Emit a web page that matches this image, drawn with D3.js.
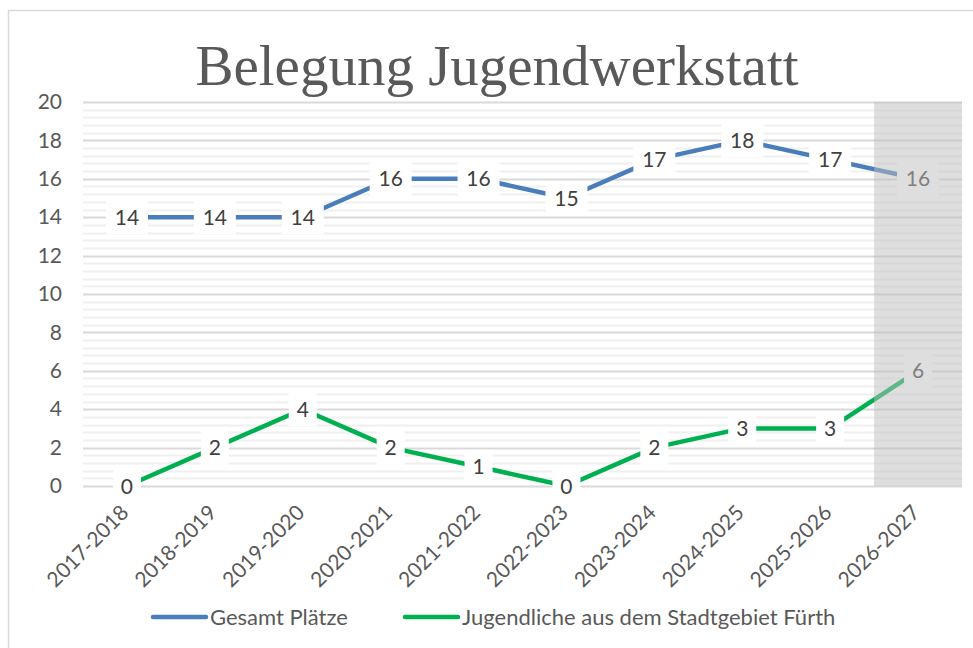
<!DOCTYPE html>
<html><head><meta charset="utf-8">
<script src="https://cdn.jsdelivr.net/npm/d3@7"></script>
<style>body{margin:0;background:#fff}svg{display:block}</style>
</head><body>
<svg id="c" width="973" height="648"></svg>
<script>
const categories = ["2017-2018","2018-2019","2019-2020","2020-2021","2021-2022","2022-2023","2023-2024","2024-2025","2025-2026","2026-2027"];
const gesamt = [14,14,14,16,16,15,17,18,17,16];
const fuerth = [0,2,4,2,1,0,2,3,3,6];
const yTicks = [0,2,4,6,8,10,12,14,16,18,20];
const seriesNames = ["Gesamt Plätze","Jugendliche aus dem Stadtgebiet Fürth"];
const seriesColors = ["#4a7ebb","#00b050"];
const title = "Belegung Jugendwerkstatt";
const shadedCategory = "2026-2027";

const svg = d3.select("#c");
const W = 973, H = 648;
const m = {l:83, r:11, t:102, b:162};
svg.append("rect").attr("x",8.5).attr("y",10.5).attr("width",W+10).attr("height",H+10).attr("fill","#fff").attr("stroke","#d9d9d9").attr("stroke-width",1.5);

const x = d3.scaleBand().domain(categories).range([m.l, W-m.r]).padding(0);
const y = d3.scaleLinear().domain([0,20]).range([H-m.b, m.t]);
const font = "Lato, 'Open Sans', sans-serif";

svg.append("text").attr("x",497).attr("y",85).attr("text-anchor","middle")
  .attr("font-family","'Liberation Serif', 'DejaVu Serif', serif").attr("font-size",57).attr("fill","#595959").text(title);

// minor gridlines
const minor = d3.range(0,20.001,0.4).filter(v => Math.abs(v/2-Math.round(v/2))>1e-6);
svg.append("g").selectAll("line").data(minor).join("line")
  .attr("x1",m.l).attr("x2",W-m.r).attr("y1",d=>Math.round(y(d))+0.5).attr("y2",d=>Math.round(y(d))+0.5)
  .attr("stroke","#f0f0f0").attr("stroke-width",2);
svg.append("g").selectAll("line").data(yTicks).join("line")
  .attr("x1",m.l).attr("x2",W-m.r).attr("y1",d=>Math.round(y(d))+0.5).attr("y2",d=>Math.round(y(d))+0.5)
  .attr("stroke","#d9d9d9").attr("stroke-width",2);

// y axis
const yAxis = d3.axisLeft(y).tickValues(yTicks).tickSize(0).tickPadding(21);
const gy = svg.append("g").attr("transform",`translate(${m.l},0)`).call(yAxis);
gy.select(".domain").remove();
gy.selectAll("text").attr("font-family",font).attr("font-size",21).attr("fill","#595959");

const cx = d => x(d)+x.bandwidth()/2;
const line = d3.line().x((d,i)=>cx(categories[i])).y(d=>y(d));
[gesamt,fuerth].forEach((s,k)=>{
  svg.append("path").datum(s).attr("d",line).attr("fill","none").attr("stroke",seriesColors[k])
    .attr("stroke-width",4.5).attr("stroke-linejoin","round");
});
// labels
[gesamt,fuerth].forEach((s,k)=>{
  const g = svg.append("g").selectAll("g").data(s).join("g")
    .attr("transform",(d,i)=>`translate(${cx(categories[i])},${y(d)})`);
  g.append("rect").attr("x",d=>d>=10?-21:-14).attr("y",-17).attr("width",d=>d>=10?42:28).attr("height",34).attr("fill","#fff");
  g.append("text").attr("text-anchor","middle").attr("dy","0.36em").attr("font-family",font).attr("font-size",21)
    .attr("fill","#404040").text(d=>d);
});

// shaded overlay
svg.append("rect").attr("x",x(shadedCategory)).attr("y",m.t).attr("width",x.bandwidth()).attr("height",H-m.b-m.t)
  .attr("fill","rgb(190,190,190)").attr("fill-opacity",0.5);

// x axis (drawn on top)
const xAxis = d3.axisBottom(x).tickSize(0);
const gx = svg.append("g").attr("transform",`translate(0,${H-m.b})`).call(xAxis);
gx.select(".domain").remove();
gx.selectAll("text").attr("font-family",font).attr("font-size",21).attr("fill","#595959")
  .attr("text-anchor","end").attr("dy",0).attr("transform","translate(3,28) rotate(-45)").attr("y",0).attr("x",0);

// legend
const legX = [153,405];
seriesNames.forEach((n,k)=>{
  svg.append("line").attr("x1",legX[k]).attr("x2",legX[k]+53).attr("y1",617).attr("y2",617)
    .attr("stroke",seriesColors[k]).attr("stroke-width",4.5).attr("stroke-linecap","round");
  svg.append("text").attr("x",legX[k]+57).attr("y",617).attr("dy","0.35em").attr("font-family",font)
    .attr("font-size",22).attr("fill","#595959").text(n);
});
</script>
</body></html>
